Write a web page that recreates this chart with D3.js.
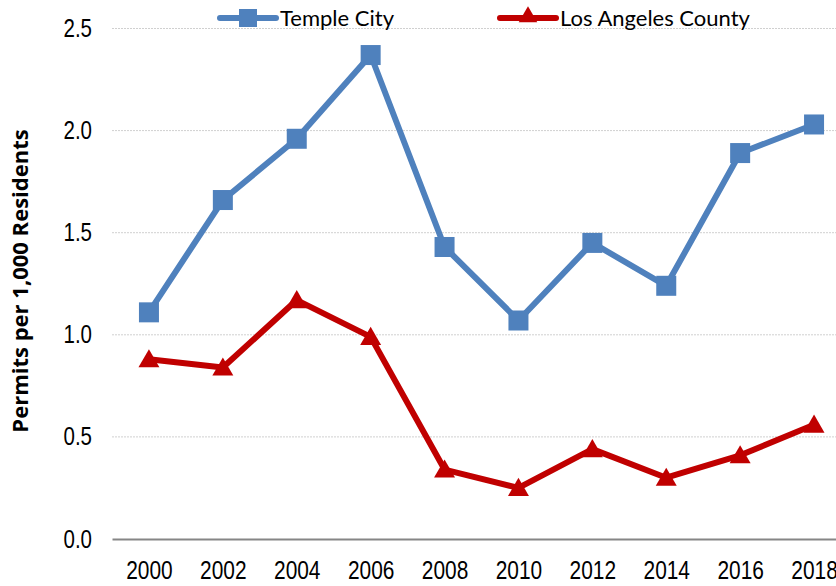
<!DOCTYPE html>
<html>
<head>
<meta charset="utf-8">
<script src="https://cdn.jsdelivr.net/npm/d3@7"></script>
<style>
  body { margin: 0; background: #fff; }
  #chart-container { width: 836px; height: 586px; overflow: hidden; }
</style>
</head>
<body>
<div id="chart-container"></div>
<script>
// Data
const years = ["2000", "2002", "2004", "2006", "2008", "2010", "2012", "2014", "2016", "2018"];
const templeCity = [1.11, 1.66, 1.96, 2.37, 1.43, 1.07, 1.45, 1.24, 1.89, 2.03];
const laCounty = [0.88, 0.84, 1.17, 0.99, 0.34, 0.25, 0.44, 0.30, 0.41, 0.56];
const yTicks = [0, 0.5, 1.0, 1.5, 2.0, 2.5];

const W = 836, H = 586;
const plotLeft = 112, plotRight = 851, plotTop = 28.5, plotBottom = 539;

// narrow look: Liberation Sans squeezed horizontally (like Arial Narrow)
const tickFont = "'Liberation Sans', Arial, sans-serif";
const narrow = 0.82;
const textFont = "Lato, 'Open Sans', sans-serif";

const x = d3.scalePoint()
  .domain(years)
  .range([plotLeft, plotRight])
  .padding(0.5);

const y = d3.scaleLinear()
  .domain([0, 2.5])
  .range([plotBottom, plotTop]);

const svg = d3.select("#chart-container")
  .append("svg")
  .attr("width", W)
  .attr("height", H);

// Horizontal dotted gridlines
svg.selectAll(".grid")
  .data(yTicks.filter(d => d > 0))
  .join("line")
  .attr("x1", plotLeft)
  .attr("x2", plotRight)
  .attr("y1", d => y(d))
  .attr("y2", d => y(d))
  .attr("stroke", "#d0d0d0")
  .attr("stroke-width", 1)
  .attr("stroke-dasharray", "2,1");

// Y axis labels
svg.append("g")
  .attr("transform", `translate(${plotLeft},0)`)
  .call(d3.axisLeft(y)
    .tickValues(yTicks)
    .tickFormat(d3.format(".1f"))
    .tickSize(0)
    .tickPadding(0))
  .call(g => g.select(".domain").remove())
  .selectAll(".tick text")
  .attr("x", -20 / narrow)
  .attr("transform", `scale(${narrow},1)`)
  .style("font-family", tickFont)
  .style("font-size", "25px")
  .attr("fill", "#000");

// X axis
svg.append("g")
  .attr("transform", `translate(0,${plotBottom})`)
  .call(d3.axisBottom(x).tickSize(0).tickPadding(22))
  .call(g => g.select(".domain").attr("stroke", "#868686").attr("stroke-width", 2))
  .selectAll(".tick text")
  .attr("transform", `scale(${narrow},1)`)
  .style("font-family", tickFont)
  .style("font-size", "25.5px")
  .attr("fill", "#000");

// Y axis title
svg.append("text")
  .attr("transform", "translate(28,281) rotate(-90)")
  .attr("text-anchor", "middle")
  .style("font-family", "'Open Sans', sans-serif")
  .style("font-size", "22px")
  .style("font-weight", "bold")
  .text("Permits per 1,000 Residents");

const line = d3.line()
  .x((d, i) => x(years[i]))
  .y(d => y(d));

const blue = "#4f81bd", red = "#c00000";
const sq = 20;
const tri = d3.symbol().type(d3.symbolTriangle).size(190);

// Temple City
svg.append("path")
  .datum(templeCity)
  .attr("fill", "none")
  .attr("stroke", blue)
  .attr("stroke-width", 6)
  .attr("stroke-linejoin", "round")
  .attr("d", line);
svg.selectAll(".sq")
  .data(templeCity)
  .join("rect")
  .attr("x", (d, i) => x(years[i]) - sq / 2)
  .attr("y", d => y(d) - sq / 2)
  .attr("width", sq)
  .attr("height", sq)
  .attr("fill", blue);

// Los Angeles County
svg.append("path")
  .datum(laCounty)
  .attr("fill", "none")
  .attr("stroke", red)
  .attr("stroke-width", 6)
  .attr("stroke-linejoin", "round")
  .attr("d", line);
svg.selectAll(".tri")
  .data(laCounty)
  .join("path")
  .attr("transform", (d, i) => `translate(${x(years[i])},${y(d) + 2})`)
  .attr("d", tri)
  .attr("fill", red);

// Legend
const legend = [
  { name: "Temple City", color: blue, x0: 220, shape: "square" },
  { name: "Los Angeles County", color: red, x0: 500, shape: "triangle" }
];
const lg = svg.selectAll(".legend")
  .data(legend)
  .join("g")
  .attr("transform", d => `translate(${d.x0},18)`);
lg.append("line")
  .attr("x1", 0)
  .attr("x2", 56)
  .attr("stroke", d => d.color)
  .attr("stroke-width", 6)
  .attr("stroke-linecap", "round");
lg.filter(d => d.shape === "square").append("rect")
  .attr("x", 19)
  .attr("y", -9)
  .attr("width", 18)
  .attr("height", 18)
  .attr("fill", d => d.color);
lg.filter(d => d.shape === "triangle").append("path")
  .attr("transform", "translate(28,-1)")
  .attr("d", d3.symbol().type(d3.symbolTriangle).size(150))
  .attr("fill", d => d.color);
lg.append("text")
  .attr("x", 60)
  .attr("y", 8)
  .style("font-family", textFont)
  .style("font-size", "22px")
  .text(d => d.name);
</script>
</body>
</html>
